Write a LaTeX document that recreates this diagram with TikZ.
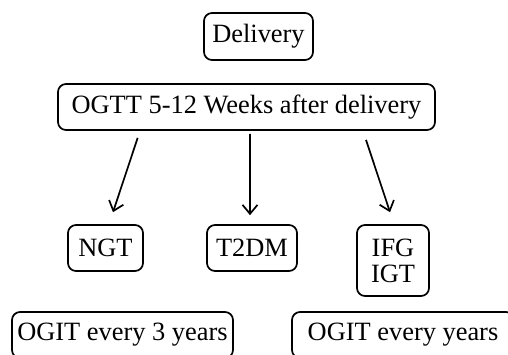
\documentclass[tikz,border=0pt]{standalone}
\usepackage{fontspec}
\setmainfont{Liberation Serif}
\usetikzlibrary{arrows.meta}
\begin{document}
\begin{tikzpicture}[x=1bp,y=-1bp,
  box/.style={draw,line width=1.7bp,rounded corners=8bp,inner sep=0pt,
    font=\fontsize{26.5}{26}\selectfont,align=center},
  arr/.style={line width=1.7bp,-{Straight Barb[length=9bp,width=15bp]}}]
\useasboundingbox (0,0) rectangle (508,354);
\clip (0,0) rectangle (508,354);
\node[box,minimum width=109bp,minimum height=47bp] (deliv) at (258.5,36.5) {Delivery};
\node[box,minimum width=377bp,minimum height=46bp] (ogtt) at (246.5,107) {OGTT 5-12 Weeks after delivery};
\node[box,minimum width=75bp,minimum height=46bp] (ngt) at (105.5,248) {NGT};
\node[box,minimum width=90bp,minimum height=46bp] (t2dm) at (252,248) {T2DM};
\node[box,minimum width=72bp,minimum height=71bp] (ifg) at (393,260.5) {IFG\\IGT};
\node[box,minimum width=221bp,minimum height=46bp] (ogit1) at (122.5,335) {OGIT every 3 years};
\node[box,minimum width=222bp,minimum height=46bp] (ogit2) at (403,335) {OGIT every years};
\draw[arr,shorten <=7.4bp,shorten >=12.6bp] ([xshift=-106.5bp]ogtt.south) -- ([xshift=3.5bp]ngt.north);
\draw[arr,shorten <=3bp,shorten >=9bp] ([xshift=3.5bp]ogtt.south) -- ([xshift=-2bp]t2dm.north);
\draw[arr,shorten <=9.5bp,shorten >=12.6bp] ([xshift=116.5bp]ogtt.south) -- ([xshift=1bp]ifg.north);
\end{tikzpicture}
\end{document}
